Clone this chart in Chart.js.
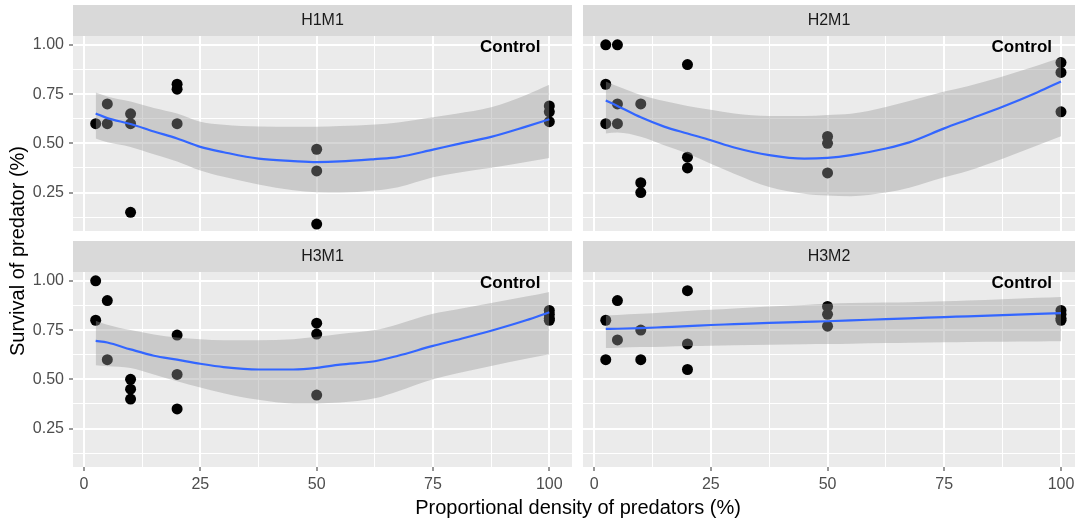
<!DOCTYPE html>
<html>
<head>
<meta charset="utf-8">
<script src="https://cdn.jsdelivr.net/npm/chart.js@4.4.0/dist/chart.umd.min.js"></script>
<style>
  html, body { margin:0; padding:0; background:#fff; overflow:hidden; }
  body { width:1075px; height:522px; position:relative; font-family:"Liberation Sans", Arial, sans-serif; }
  canvas { position:absolute; }
  .title { position:absolute; color:#000; font-size:20px; line-height:24px; height:24px; white-space:nowrap; text-align:center; }
</style>
</head>
<body>
<canvas id="h1m1" width="572" height="231" style="left:0;top:0"></canvas>
<canvas id="h2m1" width="492" height="231" style="left:583px;top:0"></canvas>
<canvas id="h3m1" width="572" height="260" style="left:0;top:236px"></canvas>
<canvas id="h3m2" width="492" height="260" style="left:583px;top:236px"></canvas>
<div class="title" style="left:0;width:1156px;top:495px">Proportional density of predators (%)</div>
<div class="title" style="left:-133px;width:300px;top:239px;transform:rotate(-90deg)">Survival of predator (%)</div>
<script>
// tick labels
var xTicks = [0, 25, 50, 75, 100];
var yTicks = [0.25, 0.50, 0.75, 1.00];

// observed points
var h1m1X = [2.5, 5, 5, 10, 10, 10, 20, 20, 20, 50, 50, 50, 100, 100, 100];
var h1m1Y = [0.60, 0.70, 0.60, 0.65, 0.60, 0.15, 0.80, 0.775, 0.60, 0.47, 0.36, 0.09, 0.69, 0.66, 0.61];

var h2m1X = [2.5, 2.5, 2.5, 5, 5, 5, 10, 10, 10, 20, 20, 20, 50, 50, 50, 100, 100, 100];
var h2m1Y = [1.00, 0.80, 0.60, 1.00, 0.70, 0.60, 0.70, 0.30, 0.25, 0.90, 0.43, 0.375, 0.535, 0.50, 0.35, 0.91, 0.86, 0.66];

var h3m1X = [2.5, 2.5, 5, 5, 10, 10, 10, 20, 20, 20, 50, 50, 50, 100, 100, 100, 100];
var h3m1Y = [1.00, 0.80, 0.90, 0.60, 0.50, 0.45, 0.40, 0.725, 0.525, 0.35, 0.785, 0.73, 0.42, 0.85, 0.83, 0.81, 0.80];

var h3m2X = [2.5, 2.5, 5, 5, 10, 10, 20, 20, 20, 50, 50, 50, 100, 100, 100, 100];
var h3m2Y = [0.80, 0.60, 0.90, 0.70, 0.75, 0.60, 0.95, 0.68, 0.55, 0.87, 0.83, 0.77, 0.85, 0.83, 0.81, 0.80];

// smooth fits with confidence band
var fitX = [2.5, 5, 10, 15, 20, 25, 30, 37.5, 45, 50, 55, 62.5, 67.5, 75, 80, 87.5, 95, 100];

var h1m1Fit  = [0.652, 0.628, 0.598, 0.560, 0.525, 0.482, 0.455, 0.422, 0.410, 0.405, 0.408, 0.420, 0.430, 0.468, 0.495, 0.533, 0.585, 0.622];
var h1m1High = [0.758, 0.738, 0.712, 0.680, 0.652, 0.610, 0.595, 0.586, 0.584, 0.584, 0.588, 0.596, 0.606, 0.632, 0.650, 0.683, 0.745, 0.797];
var h1m1Low  = [0.525, 0.505, 0.482, 0.445, 0.408, 0.362, 0.330, 0.291, 0.262, 0.252, 0.250, 0.260, 0.277, 0.328, 0.350, 0.376, 0.405, 0.425];

var h2m1Fit  = [0.717, 0.690, 0.632, 0.585, 0.550, 0.516, 0.479, 0.440, 0.422, 0.426, 0.440, 0.474, 0.505, 0.576, 0.620, 0.686, 0.760, 0.814];
var h2m1High = [0.814, 0.790, 0.746, 0.715, 0.690, 0.670, 0.652, 0.639, 0.639, 0.644, 0.650, 0.685, 0.715, 0.763, 0.790, 0.840, 0.895, 0.934];
var h2m1Low  = [0.550, 0.555, 0.533, 0.490, 0.448, 0.397, 0.346, 0.278, 0.244, 0.235, 0.232, 0.250, 0.275, 0.328, 0.360, 0.422, 0.490, 0.536];

var h3m1Fit  = [0.695, 0.687, 0.652, 0.620, 0.600, 0.579, 0.562, 0.550, 0.550, 0.558, 0.575, 0.592, 0.620, 0.670, 0.700, 0.747, 0.800, 0.841];
var h3m1High = [0.798, 0.777, 0.750, 0.728, 0.712, 0.704, 0.699, 0.699, 0.704, 0.716, 0.730, 0.750, 0.780, 0.833, 0.855, 0.887, 0.920, 0.944];
var h3m1Low  = [0.572, 0.567, 0.558, 0.525, 0.490, 0.459, 0.430, 0.396, 0.378, 0.378, 0.382, 0.404, 0.440, 0.500, 0.530, 0.568, 0.605, 0.628];

var h3m2Fit  = [0.756, 0.757, 0.760, 0.765, 0.770, 0.776, 0.780, 0.787, 0.792, 0.795, 0.799, 0.806, 0.810, 0.816, 0.820, 0.826, 0.832, 0.836];
var h3m2High = [0.824, 0.827, 0.833, 0.840, 0.847, 0.853, 0.860, 0.870, 0.878, 0.884, 0.887, 0.890, 0.892, 0.896, 0.900, 0.907, 0.914, 0.918];
var h3m2Low  = [0.659, 0.661, 0.664, 0.666, 0.669, 0.671, 0.673, 0.676, 0.678, 0.679, 0.681, 0.684, 0.686, 0.688, 0.690, 0.691, 0.692, 0.693];

var controlLabel = 'Control';
var controlX = 91.6, controlY = 0.99;

var FONT = '"Liberation Sans", Arial, sans-serif';

// majors plus the minor lines halfway between them
function withMinor(major, lo, hi) {
  var step = major[1] - major[0];
  var all = [];
  major.forEach(function(v) { all.push(v - step / 2, v); });
  return all.filter(function(v) { return v >= lo && v <= hi; });
}

function noPad(s) {
  s.paddingTop = 0; s.paddingBottom = 0; s.paddingLeft = 0; s.paddingRight = 0;
}

var facetPlugin = {
  id: 'facet',
  beforeDraw: function(chart, args, o) {
    var a = chart.chartArea, c = chart.ctx;
    c.save();
    c.fillStyle = '#EBEBEB';
    c.fillRect(a.left, a.top, a.right - a.left, a.bottom - a.top);
    c.fillStyle = '#D9D9D9';
    c.fillRect(a.left, a.top - 31, a.right - a.left, 31);
    c.fillStyle = '#1A1A1A';
    c.font = '16px ' + FONT;
    c.textAlign = 'center';
    c.textBaseline = 'middle';
    c.fillText(o.name, (a.left + a.right) / 2, a.top - 15);
    c.restore();
  },
  afterDatasetsDraw: function(chart, args, o) {
    var c = chart.ctx;
    c.save();
    c.fillStyle = '#000';
    c.font = 'bold 17px ' + FONT;
    c.textAlign = 'center';
    c.textBaseline = 'middle';
    c.fillText(controlLabel, chart.scales.x.getPixelForValue(controlX), chart.scales.y.getPixelForValue(controlY));
    c.restore();
  }
};

function xy(xs, ys) {
  return xs.map(function(x, i) { return {x: x, y: ys[i]}; });
}

function makePanel(id, name, px, py, fit, low, high, left, bottom, xMax) {
  var xMin = -2.375, yMin = 0.055, yMax = 1.045;
  var xAll = withMinor(xTicks, xMin, xMax);
  var yAll = withMinor(yTicks, yMin, yMax);
  new Chart(document.getElementById(id), {
    type: 'line',
    data: {
      datasets: [
        { data: xy(fitX, fit), borderColor: '#3366FF', borderWidth: 2.2, pointRadius: 0,
          cubicInterpolationMode: 'monotone', fill: false, order: 0 },
        { data: xy(fitX, high), borderColor: 'rgba(0,0,0,0)', borderWidth: 0, pointRadius: 0,
          cubicInterpolationMode: 'monotone', fill: '+1', backgroundColor: 'rgba(153,153,153,0.4)', order: 1 },
        { data: xy(fitX, low), borderColor: 'rgba(0,0,0,0)', borderWidth: 0, pointRadius: 0,
          cubicInterpolationMode: 'monotone', fill: false, order: 1 },
        { data: xy(px, py), showLine: false, pointRadius: 5.5, pointHoverRadius: 5.5, pointBorderWidth: 0,
          pointBackgroundColor: '#000', order: 2 }
      ]
    },
    options: {
      responsive: false,
      animation: false,
      events: [],
      layout: { autoPadding: false, padding: { top: 36, left: 0, right: 0, bottom: 0 } },
      plugins: { legend: { display: false }, tooltip: { enabled: false }, facet: { name: name } },
      scales: {
        x: {
          type: 'linear', min: xMin, max: xMax,
          afterBuildTicks: function(s) { s.ticks = xAll.map(function(v) { return {value: v}; }); },
          afterFit: function(s) { s.height = bottom ? 29 : 0; noPad(s); },
          border: { display: false },
          grid: {
            color: '#FFFFFF',
            lineWidth: function(ctx) { return xTicks.indexOf(ctx.tick.value) >= 0 ? 2 : 1; },
            drawTicks: bottom, tickLength: 4, tickWidth: 1,
            tickColor: function(ctx) { return xTicks.indexOf(ctx.tick.value) >= 0 ? '#333333' : 'rgba(0,0,0,0)'; }
          },
          ticks: {
            display: bottom, autoSkip: false, maxRotation: 0, padding: 4,
            color: '#4D4D4D', font: { size: 16, family: FONT },
            callback: function(v) { return xTicks.indexOf(v) >= 0 ? String(v) : ''; }
          }
        },
        y: {
          min: yMin, max: yMax,
          afterBuildTicks: function(s) { s.ticks = yAll.map(function(v) { return {value: v}; }); },
          afterFit: function(s) { s.width = left ? 73 : 0; noPad(s); },
          border: { display: false },
          grid: {
            color: '#FFFFFF',
            lineWidth: function(ctx) { return yTicks.indexOf(ctx.tick.value) >= 0 ? 2 : 1; },
            drawTicks: left, tickLength: 4, tickWidth: 1,
            tickColor: function(ctx) { return yTicks.indexOf(ctx.tick.value) >= 0 ? '#333333' : 'rgba(0,0,0,0)'; }
          },
          ticks: {
            display: left, autoSkip: false, padding: 5,
            color: '#4D4D4D', font: { size: 16, family: FONT },
            callback: function(v) { return yTicks.indexOf(v) >= 0 ? v.toFixed(2) : ''; }
          }
        }
      }
    },
    plugins: [facetPlugin]
  });
}

makePanel('h1m1', 'H1M1', h1m1X, h1m1Y, h1m1Fit, h1m1Low, h1m1High, true, false, 104.875);
makePanel('h2m1', 'H2M1', h2m1X, h2m1Y, h2m1Fit, h2m1Low, h2m1High, false, false, 103.0);
makePanel('h3m1', 'H3M1', h3m1X, h3m1Y, h3m1Fit, h3m1Low, h3m1High, true, true, 104.875);
makePanel('h3m2', 'H3M2', h3m2X, h3m2Y, h3m2Fit, h3m2Low, h3m2High, false, true, 103.0);
</script>
</body>
</html>
